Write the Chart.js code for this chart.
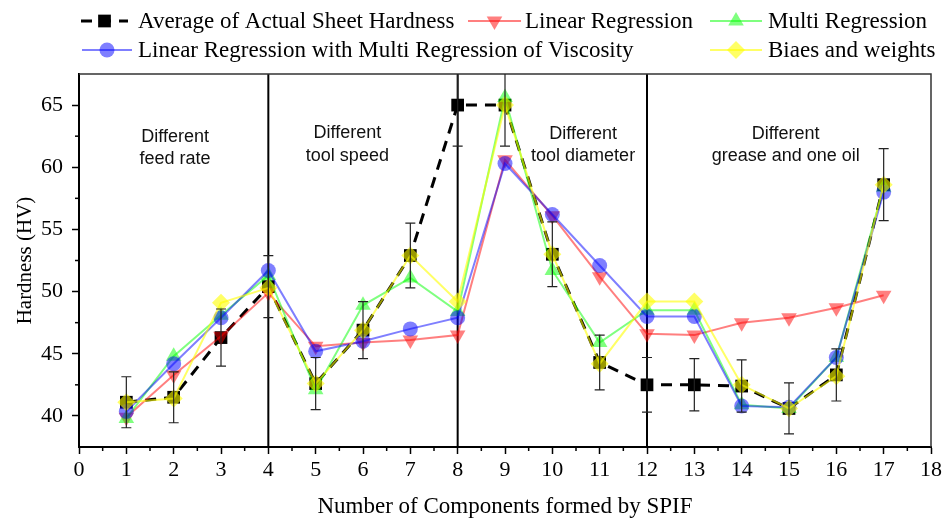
<!DOCTYPE html>
<html>
<head>
<meta charset="utf-8">
<script src="https://cdn.jsdelivr.net/npm/chart.js@4/dist/chart.umd.min.js"></script>
<style>
  body { margin: 0; background: #fff; }
  canvas { display: block; }
</style>
</head>
<body>
<canvas id="chart" width="945" height="520"></canvas>
<script>
// component number (x)
const comps = [1, 2, 3, 4, 5, 6, 7, 8, 9, 10, 11, 12, 13, 14, 15, 16, 17];

// series values
const avgHardness = [41.1, 41.5, 46.3, 50.4, 42.6, 46.9, 52.9, 65.0, 65.0, 53.0, 44.3, 42.5, 42.5, 42.4, 40.6, 43.3, 58.6];
const avgError    = [2.05, 2.05, 2.3, 2.5, 2.1, 2.3, 2.6, 3.3, 3.3, 2.6, 2.2, 2.2, 2.1, 2.1, 2.05, 2.1, 2.9];
const linReg      = [39.9, 43.3, 46.4, 49.9, 45.6, 45.9, 46.1, 46.5, 60.6, 56.1, 51.2, 46.6, 46.5, 47.5, 47.9, 48.7, 49.7];
const multiReg    = [39.8, 44.8, 48.1, 51.3, 42.1, 48.9, 51.1, 48.4, 65.6, 51.7, 45.9, 48.5, 48.5, 40.9, 40.6, 44.7, 58.4];
const linMultiVisc = [40.35, 44.2, 47.9, 51.7, 45.2, 46.0, 47.0, 47.9, 60.3, 56.2, 52.1, 48.0, 48.0, 40.8, 40.7, 44.7, 58.0];
const biasWeights = [41.1, 41.4, 49.1, 50.3, 42.6, 46.9, 52.9, 49.2, 65.0, 53.0, 44.2, 49.2, 49.2, 42.5, 40.6, 43.2, 58.6];

// axis ticks
const xTicks = [0, 1, 2, 3, 4, 5, 6, 7, 8, 9, 10, 11, 12, 13, 14, 15, 16, 17, 18];
const yTicks = [40, 45, 50, 55, 60, 65];

// group dividers and group notes
const dividers = [4, 8, 12];
const groupNotes = [
    { x: 2.03, y: 62.45, lines: ["Different", "feed rate"] },
    { x: 5.67, y: 62.75, lines: ["Different", "tool speed"] },
    { x: 10.65, y: 62.7, lines: ["Different", "tool diameter"] },
    { x: 14.93, y: 62.7, lines: ["Different", "grease and one oil"] }
];

const serif = "'Liberation Serif', 'Times New Roman', serif";

function toPoints(values) {
    return values.map((v, i) => ({ x: comps[i], y: v }));
}

// legend layout: [sample start x, sample end x, text x, row y]
const legendSlots = [
    [81, 128, 138, 21],
    [468, 521, 525, 21],
    [710, 762, 768, 21],
    [82, 132, 138, 50],
    [710, 762, 768, 50]
];

const legendPlugin = {
    id: 'customLegend',
    afterDraw(chart) {
        const ctx = chart.ctx;
        chart.data.datasets.forEach((ds, i) => {
            const [x0, x1, tx, y] = legendSlots[i];
            ctx.save();
            ctx.strokeStyle = ds.borderColor;
            ctx.lineWidth = ds.borderWidth;
            ctx.setLineDash(ds.borderDash || []);
            ctx.beginPath();
            ctx.moveTo(x0, y);
            ctx.lineTo(x1, y);
            ctx.stroke();
            ctx.setLineDash([]);
            ctx.fillStyle = ds.pointBackgroundColor;
            ctx.strokeStyle = ds.pointBorderColor;
            ctx.lineWidth = 0;
            Chart.helpers.drawPoint(ctx, {
                pointStyle: ds.pointStyle,
                rotation: ds.pointRotation || 0,
                radius: ds.pointRadius,
                borderWidth: 0
            }, (x0 + x1) / 2, y);
            ctx.fillStyle = '#000';
            ctx.font = "23px " + serif;
            ctx.textBaseline = 'middle';
            ctx.textAlign = 'left';
            ctx.fillText(ds.label, tx, y + 1);
            ctx.restore();
        });
    }
};

const decorPlugin = {
    id: 'decor',
    beforeDatasetsDraw(chart) {
        const { ctx, chartArea: a, scales: { x, y } } = chart;
        ctx.save();
        // divider lines
        ctx.strokeStyle = '#000';
        ctx.lineWidth = 2;
        dividers.forEach(d => {
            const px = x.getPixelForValue(d);
            ctx.beginPath();
            ctx.moveTo(px, a.top);
            ctx.lineTo(px, a.bottom);
            ctx.stroke();
        });
        // frame top and right
        ctx.lineWidth = 1.5;
        ctx.strokeStyle = '#333';
        ctx.beginPath();
        ctx.moveTo(a.left, a.top);
        ctx.lineTo(a.right, a.top);
        ctx.lineTo(a.right, a.bottom);
        ctx.stroke();
        // group notes
        ctx.fillStyle = '#111';
        ctx.font = "18px 'Liberation Sans', Arial, sans-serif";
        ctx.textAlign = 'center';
        ctx.textBaseline = 'middle';
        groupNotes.forEach(n => {
            const px = x.getPixelForValue(n.x);
            const py = y.getPixelForValue(n.y);
            n.lines.forEach((t, k) => ctx.fillText(t, px, py + k * 22.5));
        });
        // minor ticks
        ctx.strokeStyle = '#000';
        ctx.lineWidth = 1.5;
        for (let v = 0.5; v < 18; v += 1) {
            const px = x.getPixelForValue(v);
            ctx.beginPath();
            ctx.moveTo(px, a.bottom);
            ctx.lineTo(px, a.bottom + 4);
            ctx.stroke();
        }
        for (let v = 42.5; v < 67.5; v += 5) {
            const py = y.getPixelForValue(v);
            ctx.beginPath();
            ctx.moveTo(a.left, py);
            ctx.lineTo(a.left - 4, py);
            ctx.stroke();
        }
        ctx.restore();
    },
    afterDatasetsDraw(chart) {
        const { ctx, chartArea: a, scales: { x, y } } = chart;
        ctx.save();
        ctx.beginPath();
        ctx.rect(a.left, a.top, a.right - a.left, a.bottom - a.top);
        ctx.clip();
        ctx.strokeStyle = '#222';
        ctx.lineWidth = 1.2;
        avgHardness.forEach((v, i) => {
            const px = x.getPixelForValue(comps[i]);
            const top = y.getPixelForValue(v + avgError[i]);
            const bot = y.getPixelForValue(v - avgError[i]);
            ctx.beginPath();
            ctx.moveTo(px, top);
            ctx.lineTo(px, bot);
            ctx.moveTo(px - 5, top);
            ctx.lineTo(px + 5, top);
            ctx.moveTo(px - 5, bot);
            ctx.lineTo(px + 5, bot);
            ctx.stroke();
        });
        ctx.restore();
    }
};

const red = 'rgba(255, 0, 0, 0.5)';
const green = 'rgba(0, 255, 0, 0.5)';
const blue = 'rgba(0, 0, 255, 0.5)';
const yellow = 'rgba(255, 255, 0, 0.6)';

new Chart(document.getElementById('chart'), {
    type: 'line',
    data: {
        datasets: [
            {
                label: 'Average of Actual Sheet Hardness',
                data: toPoints(avgHardness),
                borderColor: '#000',
                borderWidth: 3,
                borderDash: [11, 8],
                pointStyle: 'rect',
                pointRadius: 9,
                pointBackgroundColor: '#000',
                pointBorderColor: '#000',
                pointBorderWidth: 0,
                order: 5
            },
            {
                label: 'Linear Regression',
                data: toPoints(linReg),
                borderColor: red,
                borderWidth: 2,
                pointStyle: 'triangle',
                pointRotation: 180,
                rotation: 180,
                pointRadius: 9,
                pointBackgroundColor: red,
                pointBorderColor: red,
                pointBorderWidth: 0,
                order: 4
            },
            {
                label: 'Multi Regression',
                data: toPoints(multiReg),
                borderColor: green,
                borderWidth: 2,
                pointStyle: 'triangle',
                pointRadius: 9,
                pointBackgroundColor: green,
                pointBorderColor: green,
                pointBorderWidth: 0,
                order: 3
            },
            {
                label: 'Linear Regression with Multi Regression of Viscosity',
                data: toPoints(linMultiVisc),
                borderColor: blue,
                borderWidth: 2,
                pointStyle: 'circle',
                pointRadius: 7.5,
                pointBackgroundColor: blue,
                pointBorderColor: blue,
                pointBorderWidth: 0,
                order: 2
            },
            {
                label: 'Biaes and weights',
                data: toPoints(biasWeights),
                borderColor: yellow,
                borderWidth: 2,
                pointStyle: 'rectRot',
                pointRadius: 9,
                pointBackgroundColor: yellow,
                pointBorderColor: yellow,
                pointBorderWidth: 0,
                order: 1
            }
        ]
    },
    options: {
        responsive: false,
        animation: false,
        layout: { padding: { top: 74, right: 14, left: 0, bottom: 0 } },
        plugins: {
            legend: { display: false },
            tooltip: { enabled: false }
        },
        elements: { line: { tension: 0 } },
        scales: {
            x: {
                type: 'linear',
                min: 0,
                max: 18,
                afterBuildTicks: s => { s.ticks = xTicks.map(v => ({ value: v })); },
                afterFit: s => { s.height = 73; },
                grid: { display: true, drawOnChartArea: false, tickLength: 7, tickColor: '#000', tickWidth: 1.5 },
                border: { display: true, color: '#000', width: 2 },
                ticks: { color: '#000', font: { family: serif, size: 22 }, padding: 3, maxRotation: 0, autoSkip: false },
                title: {
                    display: true,
                    text: 'Number of Components formed by SPIF',
                    color: '#000',
                    font: { family: serif, size: 23 },
                    padding: { top: 0, bottom: -1 }
                }
            },
            y: {
                min: 37.5,
                max: 67.5,
                afterBuildTicks: s => { s.ticks = yTicks.map(v => ({ value: v })); },
                afterFit: s => { s.width = 79; },
                grid: { display: true, drawOnChartArea: false, tickLength: 7, tickColor: '#000', tickWidth: 1.5 },
                border: { display: true, color: '#000', width: 2 },
                ticks: { color: '#000', font: { family: serif, size: 22 }, padding: 9 },
                title: {
                    display: true,
                    text: 'Hardness (HV)',
                    color: '#000',
                    font: { family: serif, size: 21 },
                    padding: { top: 13, bottom: 0 }
                }
            }
        }
    },
    plugins: [decorPlugin, legendPlugin]
});
</script>
</body>
</html>
